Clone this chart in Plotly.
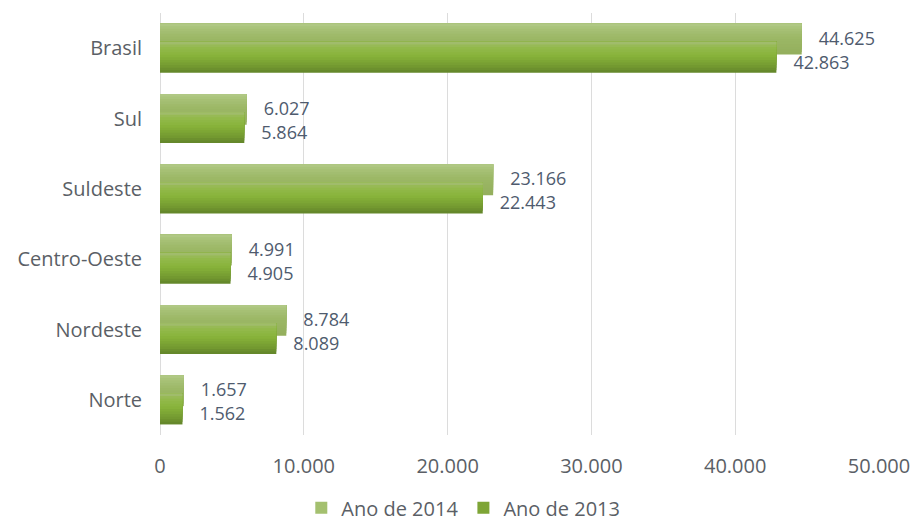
import plotly.graph_objects as go

categories = ["Norte", "Nordeste", "Centro-Oeste", "Suldeste", "Sul", "Brasil"]
values_2014 = [1657, 8784, 4991, 23166, 6027, 44625]
values_2013 = [1562, 8089, 4905, 22443, 5864, 42863]
x_ticks = [0, 10000, 20000, 30000, 40000, 50000]

FONT = "Open Sans"
TEXT_GREY = "#5b5f66"
LABEL_COL = "#4f5b6e"


def lerp(c1, c2, t):
    a = [int(c1[i:i + 2], 16) for i in (1, 3, 5)]
    b = [int(c2[i:i + 2], 16) for i in (1, 3, 5)]
    return "#%02x%02x%02x" % tuple(round(a[k] + (b[k] - a[k]) * t) for k in range(3))


def gradient_bar(fig, name, vals, bottom, width, stops, legend_color, n=12):
    # stops: list of (pos 0=bottom..1=top, color); each slice spans from its
    # lower edge up to the top of the bar, so later slices cover earlier ones.
    h = width / n
    for i in range(n):
        t = (i + 0.5) / n
        col = stops[-1][1]
        for j in range(len(stops) - 1):
            p0, c0 = stops[j]
            p1, c1 = stops[j + 1]
            if p0 <= t <= p1:
                col = lerp(c0, c1, (t - p0) / (p1 - p0))
                break
        fig.add_trace(go.Bar(
            y=categories, x=vals, orientation="h",
            offset=bottom + i * h, width=width - i * h,
            marker=dict(color=col, line=dict(width=0)),
            name=name, legendgroup=name,
            showlegend=False, hoverinfo="skip",
        ))
    fig.add_trace(go.Bar(
        y=categories, x=[None] * len(categories), orientation="h",
        marker=dict(color=legend_color), name=name, legendgroup=name,
        showlegend=True,
    ))


fig = go.Figure()
W = 0.44
gradient_bar(fig, "Ano de 2014", values_2014, -0.09, W,
             [(0, "#93ae5c"), (0.55, "#9cb866"), (0.85, "#a8c278"), (1, "#b3cb88")],
             "#a4c06f")
gradient_bar(fig, "Ano de 2013", values_2013, -0.35, W,
             [(0, "#62842a"), (0.2, "#729830"), (0.55, "#88b33a"), (0.85, "#94ba4e"), (1, "#a4bd76")],
             "#7ea536")

# value labels
for vals, center in ((values_2014, 0.15), (values_2013, -0.19)):
    fig.add_trace(go.Bar(
        y=categories, x=vals, orientation="h",
        offset=center - 0.05, width=0.1,
        marker=dict(color="rgba(0,0,0,0)", line=dict(width=0)),
        text=vals, texttemplate="\u00a0\u00a0\u00a0%{x:,}",
        textposition="outside", constraintext="none", cliponaxis=False,
        textfont=dict(family=FONT, size=18, color=LABEL_COL),
        showlegend=False, hoverinfo="skip",
    ))

fig.update_layout(
    template="none",
    width=912, height=529,
    margin=dict(l=160, r=33, t=13, b=94, autoexpand=False),
    barmode="overlay",
    separators=",.",
    paper_bgcolor="white", plot_bgcolor="white",
    font=dict(family=FONT, size=20, color=TEXT_GREY),
    legend=dict(orientation="h", xref="container", yref="container",
                x=0.508, y=0.04, xanchor="center", yanchor="middle",
                font=dict(family=FONT, size=20, color=TEXT_GREY),
                itemwidth=30, traceorder="normal", bgcolor="rgba(0,0,0,0)"),
    showlegend=True,
)
fig.update_xaxes(range=[0, 50000], tickvals=x_ticks, tickformat=",d",
                 automargin=False,
                 showgrid=True, gridcolor="#dcdcdc", gridwidth=1,
                 zeroline=True, zerolinecolor="#dcdcdc", zerolinewidth=1,
                 ticks="outside", ticklen=13, tickcolor="rgba(0,0,0,0)",
                 showline=False, tickfont=dict(size=20, color=TEXT_GREY))
fig.update_yaxes(type="category", categoryorder="array", categoryarray=categories,
                 automargin=False,
                 range=[-0.5, 5.5], showgrid=False, zeroline=False, showline=False,
                 ticks="outside", ticklen=13, tickcolor="rgba(0,0,0,0)",
                 tickfont=dict(size=20, color=TEXT_GREY))

fig.write_html("out.html")
